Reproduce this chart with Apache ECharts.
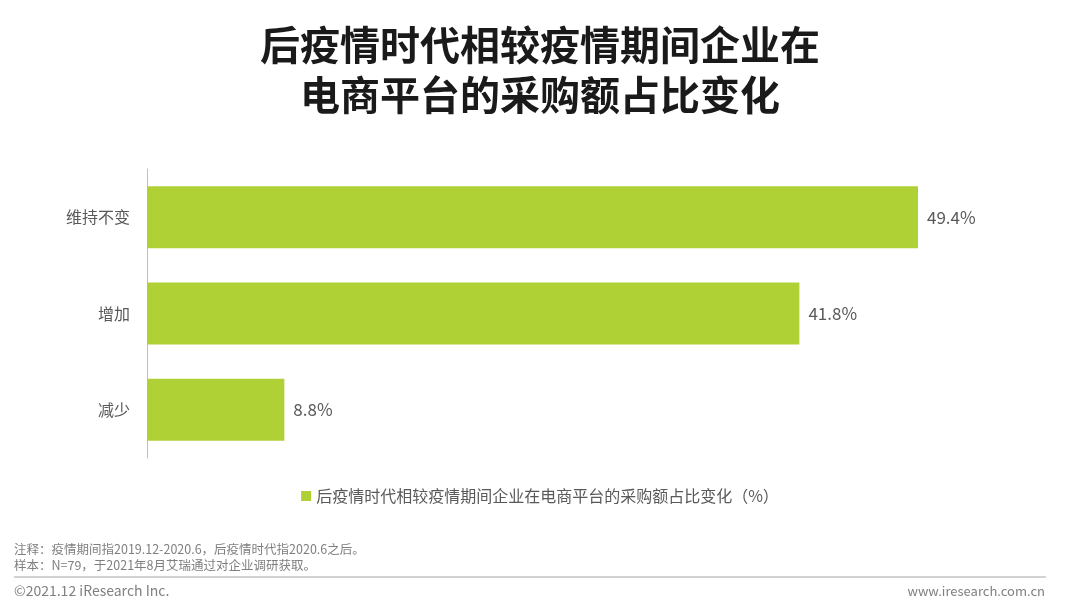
<!DOCTYPE html>
<html><head><meta charset="utf-8">
<script src="https://cdn.jsdelivr.net/npm/echarts@6/dist/echarts.min.js"></script>
<style>html,body{margin:0;padding:0;background:#fff}#c{width:1080px;height:612px}</style>
</head><body><div id="c"></div>
<script>
const categories = ['维持不变', '增加', '减少'];
const values = [49.4, 41.8, 8.8];
const seriesName = '后疫情时代相较疫情期间企业在电商平台的采购额占比变化（%）';
const titleLines = ['后疫情时代相较疫情期间企业在', '电商平台的采购额占比变化'];
const notes = ['注释：疫情期间指2019.12-2020.6，后疫情时代指2020.6之后。', '样本：N=79，于2021年8月艾瑞通过对企业调研获取。'];

const font = '"Noto Sans CJK SC", "Noto Sans", sans-serif';
const chart = echarts.init(document.getElementById('c'));
chart.setOption({
  backgroundColor: '#fff',
  animation: false,
  textStyle: { fontFamily: font },
  title: {
    text: titleLines.join('\n'),
    left: 'center', top: 15,
    textStyle: { fontSize: 40, fontWeight: 'bold', color: '#1a1a1a', lineHeight: 50, fontFamily: font }
  },
  legend: {
    data: [seriesName], left: 'center', top: 483,
    itemWidth: 10, itemHeight: 10, icon: 'rect', itemGap: 4,
    textStyle: { fontSize: 16, color: '#595959', fontFamily: font }
  },
  grid: { left: 147, top: 169, width: 771, height: 289 },
  xAxis: { type: 'value', min: 0, max: 49.4, show: false },
  yAxis: {
    type: 'category', data: categories, inverse: true,
    axisLine: { show: true, lineStyle: { color: '#bfbfbf', width: 1 } },
    axisTick: { show: false },
    axisLabel: { fontSize: 16, color: '#595959', margin: 17, fontFamily: font }
  },
  series: [{
    name: seriesName, type: 'bar', data: values, barWidth: 62,
    itemStyle: { color: '#b0d136' },
    label: { show: true, position: 'right', distance: 9, formatter: p => p.value.toFixed(1) + '%', fontSize: 17, color: '#595959', fontFamily: font }
  }],
  graphic: [
    { type: 'text', left: 14, top: 541, style: { text: notes.join('\n'), fontSize: 12.5, lineHeight: 16, fill: '#7f7f7f', fontFamily: font } },
    { type: 'line', shape: { x1: 14, y1: 577, x2: 1046, y2: 577 }, style: { stroke: '#a6a6a6', lineWidth: 1 } },
    { type: 'text', left: 14, top: 584, style: { text: '©2021.12 iResearch Inc.', fontSize: 14, fill: '#7f7f7f', fontFamily: font } },
    { type: 'text', right: 35, top: 585, style: { text: 'www.iresearch.com.cn', fontSize: 13, fill: '#7f7f7f', fontFamily: font } }
  ]
});
</script></body></html>
